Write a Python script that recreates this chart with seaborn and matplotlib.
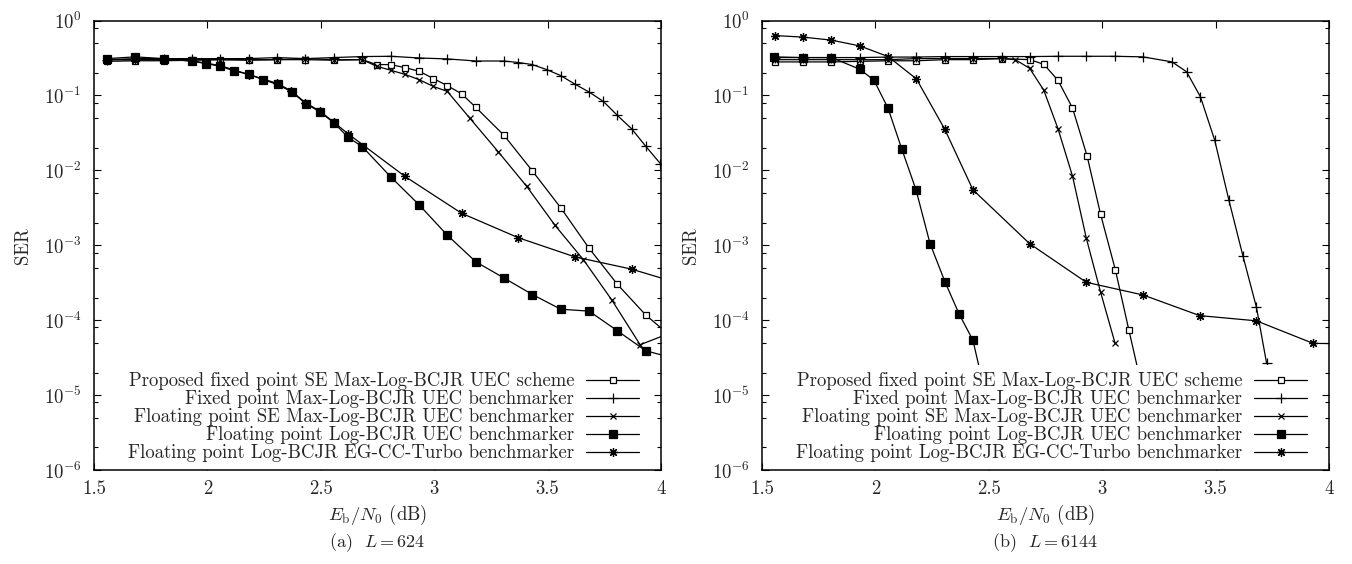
import pandas as pd
import seaborn as sns
import matplotlib.pyplot as plt
from matplotlib.ticker import LogLocator, NullFormatter

sns.set_style('ticks')
plt.rcParams['font.family'] = ['cmr10', 'DejaVu Serif']
plt.rcParams['mathtext.fontset'] = 'cm'
plt.rcParams['axes.formatter.use_mathtext'] = True
plt.rcParams['axes.unicode_minus'] = False

labels = ['Proposed fixed point SE Max-Log-BCJR UEC scheme',
          'Fixed point Max-Log-BCJR UEC benchmarker',
          'Floating point SE Max-Log-BCJR UEC benchmarker',
          'Floating point Log-BCJR UEC benchmarker',
          'Floating point Log-BCJR EG-CC-Turbo benchmarker']

flat_x = [1.557, 1.682, 1.807, 1.932, 2.057, 2.182, 2.307, 2.432, 2.557, 2.683]

# (a) L = 624
a_sq_x = flat_x + [2.746, 2.808, 2.871, 2.934, 2.996, 3.058, 3.121, 3.184, 3.308, 3.433,
                   3.558, 3.683, 3.808, 3.933, 4.058]
a_sq_y = [0.285, 0.29, 0.29, 0.295, 0.30, 0.295, 0.30, 0.30, 0.295, 0.30,
          0.258, 0.258, 0.235, 0.21, 0.168, 0.135, 0.105, 0.069, 0.0293, 0.0098,
          0.00316, 0.00091, 0.0003, 0.000117, 5.6e-5]

a_plus_x = flat_x + [2.808, 2.934, 3.058, 3.184, 3.308, 3.371, 3.433, 3.496, 3.558, 3.621,
                     3.683, 3.746, 3.808, 3.871, 3.933, 3.997]
a_plus_y = [0.30, 0.31, 0.31, 0.31, 0.31, 0.31, 0.32, 0.31, 0.32, 0.33,
            0.333, 0.316, 0.307, 0.288, 0.288, 0.275, 0.258, 0.221, 0.184, 0.141,
            0.111, 0.083, 0.054, 0.0357, 0.0209, 0.0123]

a_x_x = flat_x + [2.746, 2.808, 2.871, 2.934, 2.996, 3.058, 3.158, 3.283, 3.408, 3.533,
                  3.658, 3.783, 3.908, 4.033]
a_x_y = [0.30, 0.30, 0.30, 0.30, 0.30, 0.30, 0.30, 0.31, 0.30, 0.30,
         0.245, 0.217, 0.191, 0.162, 0.132, 0.113, 0.0493, 0.0176, 6.1e-3, 1.84e-3,
         6.4e-4, 1.86e-4, 4.7e-5, 6.6e-5]

a_fsq_x = [1.557, 1.682, 1.807, 1.932, 1.994, 2.057, 2.119, 2.184, 2.246, 2.31,
           2.372, 2.434, 2.496, 2.558, 2.621, 2.683, 2.808, 2.934, 3.058, 3.184,
           3.308, 3.433, 3.558, 3.683, 3.808, 3.933, 4.058]
a_fsq_y = [0.31, 0.327, 0.31, 0.286, 0.266, 0.245, 0.212, 0.191, 0.162, 0.14,
           0.111, 0.0775, 0.0604, 0.043, 0.0275, 0.0207, 8.2e-3, 3.45e-3, 1.36e-3, 6e-4,
           3.65e-4, 2.2e-4, 1.4e-4, 1.32e-4, 7.2e-5, 3.9e-5, 3.1e-5]

a_ast_x = [1.557, 1.682, 1.807, 1.932, 2.057, 2.182, 2.307, 2.37, 2.432, 2.495,
           2.557, 2.621, 2.871, 3.121, 3.371, 3.62, 3.87, 4.12]
a_ast_y = [0.30, 0.30, 0.30, 0.29, 0.25, 0.19, 0.145, 0.115, 0.08, 0.062,
           0.044, 0.0306, 8.3e-3, 2.67e-3, 1.26e-3, 7e-4, 4.8e-4, 2.85e-4]

# (b) L = 6144
b_sq_x = [1.556, 1.681, 1.806, 1.931, 2.056, 2.181, 2.306, 2.431, 2.556, 2.681,
          2.743, 2.805, 2.869, 2.933, 2.993, 3.058, 3.118, 3.18]
b_sq_y = [0.28, 0.28, 0.28, 0.285, 0.29, 0.29, 0.30, 0.30, 0.31, 0.30,
          0.26, 0.159, 0.068, 0.0157, 2.58e-3, 4.7e-4, 7.3e-5, 1.1e-5]

b_plus_x = [1.556, 1.681, 1.806, 1.931, 2.056, 2.181, 2.306, 2.431, 2.556, 2.681,
            2.805, 2.93, 3.056, 3.18, 3.308, 3.372, 3.433, 3.496, 3.558, 3.621,
            3.68, 3.725]
b_plus_y = [0.32, 0.32, 0.32, 0.32, 0.325, 0.325, 0.33, 0.33, 0.33, 0.33,
            0.333, 0.333, 0.333, 0.327, 0.28, 0.207, 0.096, 0.0253, 4.07e-3, 7.1e-4,
            1.49e-4, 2.65e-5]

b_x_x = [1.556, 1.681, 1.806, 1.931, 2.056, 2.181, 2.306, 2.431, 2.556, 2.617,
         2.68, 2.742, 2.805, 2.869, 2.93, 2.993, 3.056]
b_x_y = [0.30, 0.30, 0.30, 0.30, 0.30, 0.31, 0.31, 0.31, 0.31, 0.30,
         0.23, 0.118, 0.036, 8.4e-3, 1.24e-3, 2.36e-4, 5.0e-5]

b_fsq_x = [1.552, 1.681, 1.806, 1.931, 1.994, 2.056, 2.117, 2.179, 2.241, 2.307,
           2.369, 2.43, 2.493]
b_fsq_y = [0.327, 0.32, 0.32, 0.224, 0.159, 0.067, 0.019, 5.5e-3, 1.05e-3, 3.24e-4,
           1.21e-4, 5.4e-5, 8e-6]

b_ast_x = [1.556, 1.681, 1.806, 1.931, 2.056, 2.181, 2.306, 2.43, 2.68, 2.93,
           3.18, 3.43, 3.68, 3.93, 4.18]
b_ast_y = [0.63, 0.6, 0.547, 0.458, 0.33, 0.166, 0.0352, 5.5e-3, 1.05e-3, 3.2e-4,
           2.17e-4, 1.15e-4, 9.8e-5, 4.9e-5, 4.8e-5]

xticks = [1.5, 2, 2.5, 3, 3.5, 4]
xtick_labels = ['1.5', '2', '2.5', '3', '3.5', '4']
captions = ['(a)  $L = 624$', '(b)  $L = 6144$']

styles = [dict(marker='s', markersize=5, markerfacecolor='white'),
          dict(marker='+', markersize=6.5, markerfacecolor='k'),
          dict(marker='x', markersize=5, markerfacecolor='k'),
          dict(marker='s', markersize=5.8, markerfacecolor='k'),
          dict(marker=(8, 2, 0), markersize=6.5, markerfacecolor='k')]

panels = [
    [(a_sq_x, a_sq_y), (a_plus_x, a_plus_y), (a_x_x, a_x_y), (a_fsq_x, a_fsq_y), (a_ast_x, a_ast_y)],
    [(b_sq_x, b_sq_y), (b_plus_x, b_plus_y), (b_x_x, b_x_y), (b_fsq_x, b_fsq_y), (b_ast_x, b_ast_y)],
]

W, H = 1352, 564
fig = plt.figure(figsize=(W / 100, H / 100), dpi=100)
lefts = [94, 762]

for p, series in enumerate(panels):
    ax = fig.add_axes([lefts[p] / W, (H - 470) / H, 567 / W, 449.5 / H])
    for (xs, ys), lab, st in zip(series, labels, styles):
        df = pd.DataFrame({'x': xs, 'y': ys})
        sns.lineplot(data=df, x='x', y='y', ax=ax, color='k', linewidth=0.9,
                     markeredgecolor='k', markeredgewidth=0.9, label=lab,
                     legend=False, sort=False, estimator=None, **st)
    ax.set_yscale('log')
    ax.set_xlim(1.5, 4)
    ax.set_ylim(1e-6, 1)
    ax.set_xticks(xticks)
    ax.set_xticklabels(xtick_labels)
    ax.yaxis.set_major_locator(LogLocator(base=10, numticks=10))
    ax.yaxis.set_minor_locator(LogLocator(base=10, subs=[2, 5, 8], numticks=10))
    ax.yaxis.set_minor_formatter(NullFormatter())
    ax.tick_params(which='both', direction='in', top=True, right=True, labelsize=13.5,
                   color='k')
    ax.tick_params(which='major', length=5, width=0.8)
    ax.tick_params(which='minor', length=3, width=0.8)
    ax.tick_params(axis='y', pad=9)
    ax.tick_params(axis='x', pad=7)
    for s in ax.spines.values():
        s.set_color('k')
        s.set_linewidth(1.1)
        s.set_zorder(6)
    ax.set_xlabel(r'$E_\mathrm{b}/N_0$ (dB)', fontsize=13.5, labelpad=4)
    ax.set_ylabel('SER', fontsize=13.5, labelpad=8)
    leg = ax.legend(loc='lower right', bbox_to_anchor=(0.974, 0.0), borderaxespad=0,
                    markerfirst=False, fontsize=13.5, handlelength=2.8,
                    handletextpad=0.65, labelspacing=0.0, borderpad=0.4,
                    frameon=True, fancybox=False, framealpha=1)
    leg.get_frame().set_facecolor('white')
    leg.get_frame().set_edgecolor('none')
    leg.set_zorder(5)
    fig.text((lefts[p] + 283.5) / W, 1 - 543 / H, captions[p], ha='center', va='center',
             fontsize=13)

fig.savefig('out.png', dpi=100)
